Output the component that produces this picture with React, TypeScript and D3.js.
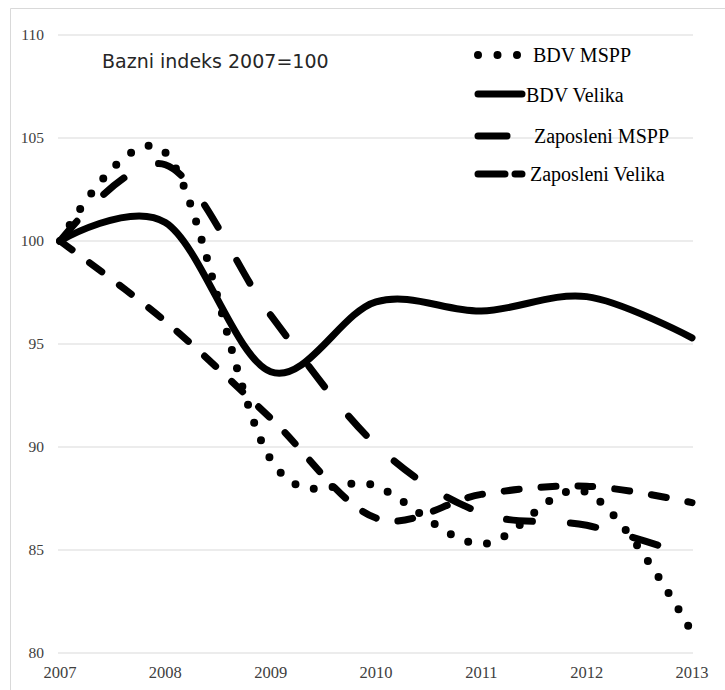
import React from "react";
import * as d3 from "d3";

const years = [2007, 2008, 2009, 2010, 2011, 2012, 2013];
const bdvMspp = [100, 104.3, 89.4, 88.1, 85.3, 87.8, 81.0];
const bdvVelika = [100, 100.9, 93.65, 97.05, 96.6, 97.3, 95.3];
const zapMspp = [100, 103.7, 96.4, 90.1, 86.8, 86.2, 84.7];
const zapVelika = [100, 96.1, 91.4, 86.55, 87.7, 88.1, 87.3];
const yTicks = [80, 85, 90, 95, 100, 105, 110];
const seriesNames = ["BDV MSPP", "BDV Velika", "Zaposleni MSPP", "Zaposleni Velika"];
const title = "Bazni indeks 2007=100";

const W = 725;
const H = 690;

export default function App() {
  const x = d3.scaleLinear().domain([2007, 2013]).range([60, 692]);
  const y = d3.scaleLinear().domain([80, 110]).range([653, 35]);
  const line = d3
    .line<number>()
    .x((_, i) => x(years[i]))
    .y((d) => y(d))
    .curve(d3.curveCardinal.tension(0));

  const styles = [
    { data: bdvMspp, dash: "0 19", w: 8 },
    { data: bdvVelika, dash: "none", w: 7 },
    { data: zapMspp, dash: "26 38", w: 7 },
    { data: zapVelika, dash: "15 22", w: 7 },
  ];

  const legendRows = [
    { name: seriesNames[0], ty: 62, ly: 55, tx: 533, x1: 478, x2: 519, dash: "0 19.5", w: 8 },
    { name: seriesNames[1], ty: 102, ly: 94, tx: 526, x1: 478, x2: 522, dash: "none", w: 7 },
    { name: seriesNames[2], ty: 143, ly: 136, tx: 534, x1: 478, x2: 507, dash: "none", w: 7 },
    { name: seriesNames[3], ty: 181, ly: 174, tx: 530, x1: 478, x2: 522, dash: "27 10", w: 7 },
  ];

  return (
    <svg
      width={W}
      height={H}
      style={{ position: "absolute", left: 0, top: 0, background: "#fff" }}
    >
      <rect x={0} y={0} width={W} height={H} fill="#fff" />
      <line x1={10.5} y1={8.5} x2={W} y2={8.5} stroke="#d9d9d9" />
      <line x1={10.5} y1={8.5} x2={10.5} y2={H} stroke="#d9d9d9" />
      {yTicks.map((t) => (
        <g key={t}>
          <line x1={58} x2={693} y1={y(t)} y2={y(t)} stroke="#d9d9d9" strokeWidth={1} />
          <text
            x={44}
            y={y(t)}
            dy="0.35em"
            textAnchor="end"
            fontFamily="'Liberation Serif', 'Times New Roman', serif"
            fontSize={15.5}
            fill="#404040"
          >
            {t}
          </text>
        </g>
      ))}
      {years.map((yr) => (
        <text
          key={yr}
          x={x(yr)}
          y={678}
          textAnchor="middle"
          fontFamily="'Liberation Serif', 'Times New Roman', serif"
          fontSize={16.5}
          fill="#404040"
        >
          {yr}
        </text>
      ))}
      <text
        x={102}
        y={68}
        fontFamily="'DejaVu Sans', Verdana, sans-serif"
        fontSize={19}
        fill="#262626"
      >
        {title}
      </text>
      {styles.map((s, i) => (
        <path
          key={i}
          d={line(s.data) || ""}
          fill="none"
          stroke="#000"
          strokeWidth={s.w}
          strokeLinecap="round"
          strokeLinejoin="round"
          strokeDasharray={s.dash}
        />
      ))}
      {legendRows.map((r) => (
        <g key={r.name}>
          <line
            x1={r.x1}
            x2={r.x2}
            y1={r.ly}
            y2={r.ly}
            stroke="#000"
            strokeWidth={r.w}
            strokeLinecap="round"
            strokeDasharray={r.dash}
          />
          <text
            x={r.tx}
            y={r.ty}
            fontFamily="'Liberation Serif', 'Times New Roman', serif"
            fontSize={20}
            fill="#000"
          >
            {r.name}
          </text>
        </g>
      ))}
    </svg>
  );
}
